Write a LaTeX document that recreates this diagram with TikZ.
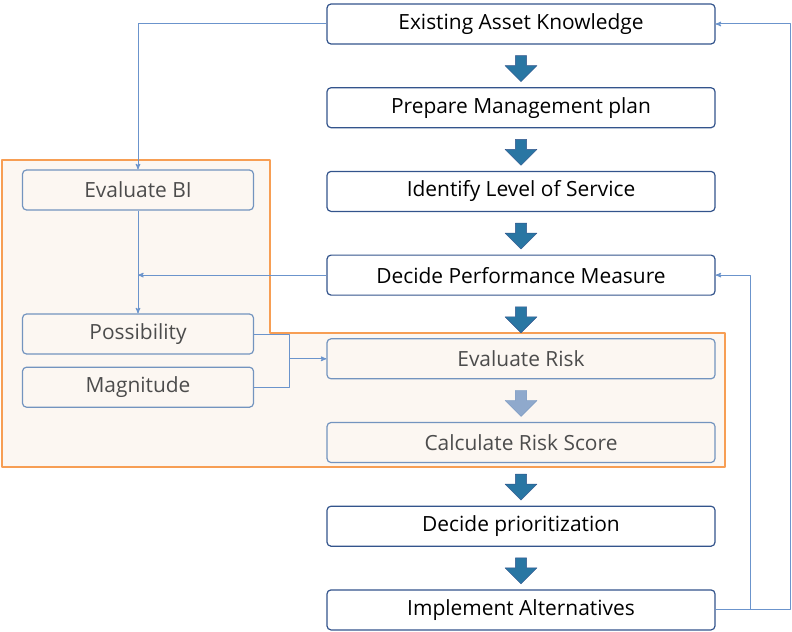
\documentclass[tikz,border=0pt]{standalone}
\usepackage{fontspec}
\setmainfont{Open Sans}
\usetikzlibrary{shapes,arrows,positioning,calc}
\definecolor{boxline}{rgb}{0.20,0.33,0.55}
\definecolor{fadeline}{rgb}{0.45,0.58,0.75}
\definecolor{region}{rgb}{0.99,0.97,0.95}
\definecolor{regionline}{rgb}{0.97,0.62,0.33}
\definecolor{link}{rgb}{0.42,0.58,0.80}
\tikzset{
  task/.style={draw=boxline,line width=1.2bp,rounded corners=4bp,fill=white,
    minimum width=388bp,minimum height=40bp,font=\fontsize{21}{23}\selectfont,inner sep=0},
  subtask/.style={task,draw=fadeline,fill=region,text=black!70},
  side/.style={subtask,minimum width=231bp},
  down/.style={single arrow,draw=boxline,fill=boxline!80!cyan,shape border rotate=270,
    minimum width=32bp,minimum height=26bp,single arrow head extend=5bp,inner sep=2.5bp},
  link/.style={draw=link,line width=1bp,->,>=stealth'},
}
\begin{document}
\begin{tikzpicture}[x=1bp,y=-1bp,line join=bevel]
\useasboundingbox (0,0) rectangle (792,632);
% region
\draw [draw=regionline,fill=region,line width=1.2bp]
  (2,160) -- (270,160) -- (270,333) -- (725,333) -- (725,467) -- (2,467) -- cycle;
\node [task] (know) at (521,24) {Existing Asset Knowledge};
\node [task,below=42.5bp of know] (plan) {Prepare Management plan};
\node [task,below=42.5bp of plan] (los) {Identify Level of Service};
\node [task,below=42.5bp of los] (perf) {Decide Performance Measure};
\node [subtask,below=42.5bp of perf] (risk) {Evaluate Risk};
\node [subtask,below=42.5bp of risk] (score) {Calculate Risk Score};
\node [task,below=42.5bp of score] (prio) {Decide prioritization};
\node [task,below=42.5bp of prio] (alt) {Implement Alternatives};
\node [side] (bi) at (138,190) {Evaluate BI};
\node [side] (poss) at (138,334) {Possibility};
\node [side,below=12bp of poss] (mag) {Magnitude};
% block arrows
\foreach \a/\b in {know/plan,plan/los,los/perf,perf/risk,score/prio,prio/alt}
  \node [down] at ($(\a.south)!0.5!(\b.north)$) {};
\node [down,draw=fadeline,fill=fadeline!80!white] at ($(risk.south)!0.5!(score.north)$) {};
% links
\draw [link] (know.west) -| (bi.north);
\draw [link] (bi.south) -- (poss.north);
\draw [link] (perf.west) -- (perf.west -| bi.south);
\coordinate (join) at ($(risk.west)+(-37,0)$);
\draw [draw=link,line width=1bp] (poss.east) -| (join);
\draw [draw=link,line width=1bp] (mag.east) -| (join);
\draw [link] (join) -- (risk.west);
\draw [link] (alt.east) -- ++(35,0) |- (perf.east);
\draw [link] (alt.east) -- ++(75,0) |- (know.east);
\end{tikzpicture}
\end{document}
